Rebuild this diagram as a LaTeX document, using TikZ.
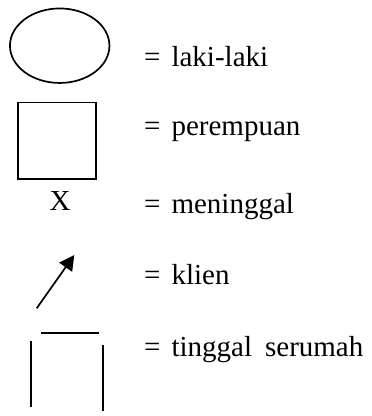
\documentclass[tikz,border=0pt]{standalone}
\usepackage{fontspec}
\setmainfont{Liberation Serif}
\usetikzlibrary{shapes.geometric,arrows.meta}

% equals sign followed by a fixed gap before each legend word
\newcommand{\eqgap}{=\hspace{11pt}}

\tikzset{
  symline/.style={line width=1.7pt},
  legendfont/.style={font=\fontsize{29}{34}\selectfont},
  legendtext/.style={anchor=base west, inner sep=0pt, legendfont},
}

\begin{document}
\begin{tikzpicture}[x=1pt,y=-1pt]
  \useasboundingbox (0,0) rectangle (372,416);

  % male: ellipse
  \node[symline, draw, ellipse, inner sep=0pt, minimum width=99.5pt, minimum height=74.5pt]
    (male) at (59.7,45.7) {};
  \node[legendtext] (tmale) at (144,66) {\eqgap laki-laki};

  % female: square
  \node[symline, draw, rectangle, inner sep=0pt, minimum width=77.4pt, minimum height=76.7pt]
    (female) at (57,140.7) {};
  \node[legendtext] (tfemale) at (144,135) {\eqgap perempuan};

  % deceased: X
  \node[anchor=base, inner sep=0pt, legendfont] (dead) at (60.2,210) {X};
  \node[legendtext] (tdead) at (144,213) {\eqgap meninggal};

  % client: arrow
  \coordinate (cfrom) at (36.7,308.3);
  \coordinate (cto) at (74.3,255);
  \draw[symline, -{Triangle[length=15pt,width=15.5pt]}] (cfrom) -- (cto);
  \node[legendtext] (tclient) at (144,284.3) {\eqgap klien};

  % living together: open box
  \coordinate (roofa) at (41,332.7);
  \coordinate (roofb) at (99,332.7);
  \coordinate (lefta) at (31,341);
  \coordinate (leftb) at (31,406.7);
  \coordinate (righta) at (102.7,345);
  \coordinate (rightb) at (102.7,410.7);
  \draw[symline] (roofa) -- (roofb);
  \draw[symline] (lefta) -- (leftb);
  \draw[symline] (righta) -- (rightb);
  \node[legendtext] (thouse) at (144,356) {\eqgap tinggal\hspace{13pt}serumah};
\end{tikzpicture}
\end{document}
